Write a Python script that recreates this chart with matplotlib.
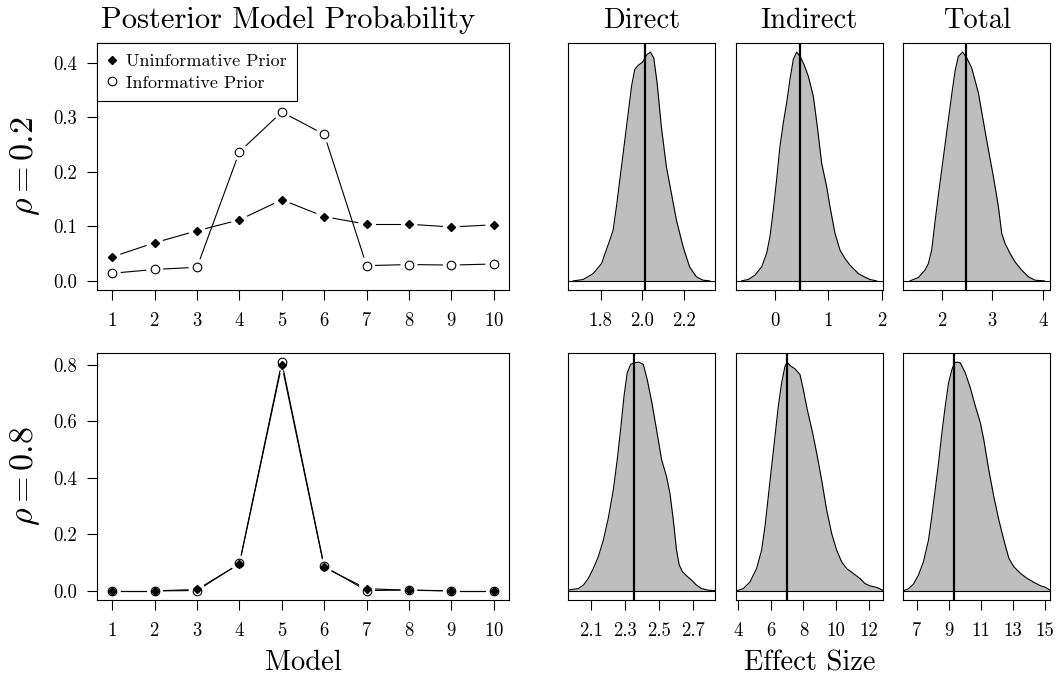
import matplotlib
matplotlib.use("Agg")
import matplotlib.pyplot as plt
from matplotlib.lines import Line2D
import numpy as np

plt.rcParams['font.family'] = 'serif'
plt.rcParams['font.serif'] = ['cmr10']
plt.rcParams['mathtext.fontset'] = 'cm'
plt.rcParams['axes.formatter.use_mathtext'] = True

# posterior model probabilities
models = [1, 2, 3, 4, 5, 6, 7, 8, 9, 10]
uninf_02 = [0.044, 0.070, 0.092, 0.112, 0.149, 0.118, 0.104, 0.104, 0.099, 0.103]
inf_02 = [0.014, 0.021, 0.025, 0.237, 0.310, 0.269, 0.028, 0.030, 0.029, 0.031]
uninf_08 = [0.0, 0.0, 0.005, 0.095, 0.800, 0.083, 0.008, 0.002, 0.0, 0.0]
inf_08 = [0.0, 0.0, 0.001, 0.097, 0.810, 0.087, 0.001, 0.003, 0.0, 0.0]

# posterior densities of effects (height relative to peak), rho = 0.2
direct_02_x = [1.670, 1.717, 1.765, 1.805, 1.844, 1.860, 1.876, 1.900, 1.924, 1.948,
               1.963, 1.979, 2.000, 2.022, 2.038, 2.054, 2.070, 2.090, 2.114, 2.138,
               2.162, 2.194, 2.225, 2.257, 2.289, 2.321]
direct_02_y = [0.0, 0.006, 0.032, 0.076, 0.178, 0.222, 0.325, 0.5, 0.675, 0.851,
               0.924, 0.942, 0.956, 0.990, 1.0, 0.975, 0.865, 0.675, 0.5, 0.383,
               0.266, 0.149, 0.061, 0.018, 0.003, 0.0]
indirect_02_x = [-0.625, -0.5, -0.375, -0.25, -0.156, -0.094, -0.031, 0.031, 0.094, 0.156,
                 0.219, 0.281, 0.344, 0.406, 0.469, 0.544, 0.625, 0.719, 0.794, 0.875,
                 0.969, 1.031, 1.125, 1.219, 1.312, 1.406, 1.5, 1.562, 1.656, 1.781, 1.906]
indirect_02_y = [0.0, 0.006, 0.025, 0.061, 0.120, 0.193, 0.310, 0.442, 0.588, 0.690,
                 0.778, 0.880, 0.968, 1.0, 0.982, 0.946, 0.895, 0.807, 0.675, 0.515,
                 0.412, 0.325, 0.208, 0.135, 0.098, 0.069, 0.047, 0.032, 0.020, 0.006, 0.0]
total_02_x = [1.373, 1.538, 1.670, 1.736, 1.802, 1.868, 1.934, 2.0, 2.066, 2.132,
              2.198, 2.264, 2.330, 2.416, 2.495, 2.594, 2.726, 2.825, 2.924, 3.023,
              3.122, 3.188, 3.254, 3.353, 3.452, 3.584, 3.716, 3.848, 4.033]
total_02_y = [0.0, 0.015, 0.047, 0.076, 0.135, 0.259, 0.376, 0.485, 0.595, 0.705,
              0.814, 0.917, 0.982, 1.0, 0.975, 0.931, 0.822, 0.697, 0.573, 0.456,
              0.325, 0.208, 0.164, 0.120, 0.083, 0.047, 0.018, 0.003, 0.0]

# rho = 0.8
direct_08_x = [1.966, 2.025, 2.055, 2.084, 2.114, 2.143, 2.173, 2.202, 2.232, 2.255,
               2.275, 2.295, 2.314, 2.334, 2.354, 2.383, 2.409, 2.432, 2.458, 2.487,
               2.517, 2.546, 2.566, 2.586, 2.605, 2.621, 2.641, 2.664, 2.694, 2.723,
               2.753, 2.792, 2.832]
direct_08_y = [0.004, 0.010, 0.025, 0.054, 0.098, 0.149, 0.222, 0.317, 0.442, 0.573,
               0.705, 0.851, 0.953, 0.990, 0.997, 1.0, 0.990, 0.924, 0.829, 0.705,
               0.573, 0.5, 0.427, 0.310, 0.178, 0.113, 0.083, 0.066, 0.047, 0.025,
               0.010, 0.003, 0.001]
indirect_08_x = [3.898, 4.307, 4.716, 5.125, 5.432, 5.637, 5.841, 6.046, 6.251, 6.455,
                 6.660, 6.864, 7.008, 7.171, 7.478, 7.785, 7.990, 8.235, 8.563, 8.849,
                 9.115, 9.422, 9.729, 10.036, 10.343, 10.650, 11.059, 11.468, 11.775,
                 12.082, 12.491, 12.859]
indirect_08_y = [0.0, 0.010, 0.039, 0.098, 0.178, 0.281, 0.412, 0.544, 0.675, 0.807,
                 0.909, 0.982, 1.0, 0.985, 0.971, 0.946, 0.880, 0.792, 0.690, 0.588,
                 0.485, 0.354, 0.251, 0.178, 0.127, 0.098, 0.076, 0.054, 0.032,
                 0.022, 0.015, 0.003]
total_08_x = [6.162, 6.476, 6.791, 7.105, 7.419, 7.733, 7.942, 8.152, 8.361, 8.571,
              8.780, 8.989, 9.199, 9.366, 9.513, 9.722, 10.036, 10.350, 10.665, 10.979,
              11.188, 11.502, 11.816, 12.130, 12.444, 12.759, 13.073, 13.491, 13.910,
              14.329, 14.748, 15.062, 15.334]
total_08_y = [0.0, 0.009, 0.029, 0.069, 0.127, 0.222, 0.325, 0.442, 0.558, 0.690,
              0.807, 0.909, 0.968, 0.997, 1.0, 0.997, 0.953, 0.887, 0.807, 0.734,
              0.661, 0.529, 0.412, 0.310, 0.222, 0.142, 0.105, 0.076, 0.054, 0.037,
              0.022, 0.015, 0.003]

# posterior means (vertical lines)
est_02 = [2.01, 0.475, 2.48]
est_08 = [2.352, 7.008, 9.345]

xlims_02 = [(1.646, 2.346), (-0.731, 2.019), (1.24, 4.145)]
xlims_08 = [(1.966, 2.832), (3.857, 12.86), (6.162, 15.33)]
ticks_02 = [['1.8', '2.0', '2.2'], ['0', '1', '2'], ['2', '3', '4']]
ticks_08 = [['2.1', '2.3', '2.5', '2.7'], ['4', '6', '8', '10', '12'],
            ['7', '9', '11', '13', '15']]
col_titles = ['Direct', 'Indirect', 'Total']

LW = 0.8


def style(ax):
    for s in ax.spines.values():
        s.set_linewidth(LW)
    ax.tick_params(direction='out', length=7, width=LW, labelsize=13.5)
    ax.tick_params(axis='x', pad=9)
    ax.tick_params(axis='y', pad=7.5)


def gapped_line(ax, x, y, gap=9):
    # R type="b": segments stop short of the points
    pts = ax.transData.transform(np.column_stack([x, y]))
    inv = ax.transData.inverted()
    for p0, p1 in zip(pts[:-1], pts[1:]):
        d = p1 - p0
        L = np.hypot(d[0], d[1])
        if L <= 2 * gap:
            continue
        u = d / L
        seg = inv.transform(np.array([p0 + u * gap, p1 - u * gap]))
        ax.plot(seg[:, 0], seg[:, 1], color='black', lw=LW)


def prob_panel(ax, uninf, inf, ymax, yticks, ylabels):
    ax.set_xlim(0.64, 10.36)
    ax.set_ylim(-0.04 * ymax, 1.04 * ymax)
    gapped_line(ax, models, uninf)
    gapped_line(ax, models, inf)
    ax.plot(models, uninf, 'D', color='black', ms=4.2, ls='none')
    ax.plot(models, inf, 'o', mfc='none', mec='black', mew=LW, ms=6.2, ls='none')
    ax.set_xticks(models)
    ax.set_yticks(yticks)
    ax.set_yticklabels(ylabels)
    style(ax)


def dens_panel(ax, x, y, est, xlim, labels):
    ax.fill_between(x, 0, y, color='#bebebe', lw=0)
    ax.plot(x, y, color='black', lw=LW)
    ax.axhline(0, color='black', lw=LW)
    ax.axvline(est, color='black', lw=1.6)
    ax.set_xlim(*xlim)
    ax.set_ylim(-0.04, 1.04)
    ax.set_yticks([])
    ax.set_xticks([float(t) for t in labels])
    ax.set_xticklabels(labels)
    style(ax)


if __name__ == '__main__':
    fig = plt.figure(figsize=(10.6, 6.77), dpi=100)

    rows = [0.5716, 0.1137]
    h = 0.3649
    ax_a = fig.add_axes([0.0915, rows[0], 0.3887, h])
    ax_b = fig.add_axes([0.0915, rows[1], 0.3887, h])

    prob_panel(ax_a, uninf_02, inf_02, 0.42, [0, 0.1, 0.2, 0.3, 0.4],
               ['0.0', '0.1', '0.2', '0.3', '0.4'])
    prob_panel(ax_b, uninf_08, inf_08, 0.81, [0, 0.2, 0.4, 0.6, 0.8],
               ['0.0', '0.2', '0.4', '0.6', '0.8'])

    handles = [Line2D([], [], marker='D', color='black', ms=4.2, ls='none'),
               Line2D([], [], marker='o', mfc='none', mec='black', mew=LW, ms=6.2, ls='none')]
    leg = ax_a.legend(handles, ['Uninformative Prior', 'Informative Prior'],
                      loc='upper left', borderaxespad=0, fancybox=False,
                      framealpha=1, edgecolor='black', fontsize=13,
                      handlelength=0.5, handletextpad=0.5, borderpad=0.6,
                      labelspacing=0.3)
    leg.get_frame().set_linewidth(LW)

    ax_a.set_title('Posterior Model Probability', fontsize=22, pad=11, x=0.464)
    ax_b.set_xlabel('Model', fontsize=20.5, labelpad=7)

    lefts = [0.5361, 0.6943, 0.8522]
    w = 0.1384
    dens_02 = [(direct_02_x, direct_02_y), (indirect_02_x, indirect_02_y),
               (total_02_x, total_02_y)]
    dens_08 = [(direct_08_x, direct_08_y), (indirect_08_x, indirect_08_y),
               (total_08_x, total_08_y)]
    for i in range(3):
        top = fig.add_axes([lefts[i], rows[0], w, h])
        dens_panel(top, dens_02[i][0], dens_02[i][1], est_02[i], xlims_02[i], ticks_02[i])
        top.set_title(col_titles[i], fontsize=20.5, pad=11)
        bot = fig.add_axes([lefts[i], rows[1], w, h])
        dens_panel(bot, dens_08[i][0], dens_08[i][1], est_08[i], xlims_08[i], ticks_08[i])
        if i == 1:
            bot.set_xlabel('Effect Size', fontsize=20.5, labelpad=7)

    fig.text(0.024, rows[0] + h / 2, r'$\rho = 0.2$', rotation=90, fontsize=24.5,
             ha='center', va='center')
    fig.text(0.024, rows[1] + h / 2, r'$\rho = 0.8$', rotation=90, fontsize=24.5,
             ha='center', va='center')

    fig.savefig('out.png', dpi=100)
